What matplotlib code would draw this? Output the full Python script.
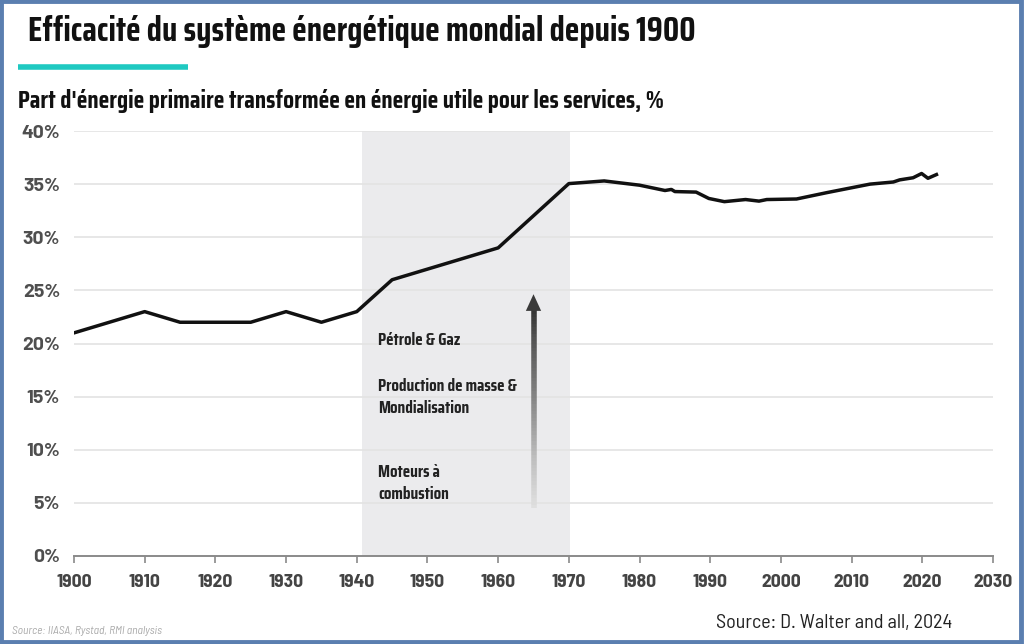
import matplotlib
matplotlib.use("Agg")
import matplotlib.pyplot as plt
import numpy as np
from matplotlib.patches import Rectangle
from matplotlib.collections import LineCollection
from matplotlib import font_manager

names = {f.name for f in font_manager.fontManager.ttflist}
def fam(*cands):
    out = [c for c in cands if c in names]
    return out + ['DejaVu Sans']

COND = fam('Saira Extra Condensed', 'Saira Condensed', 'Barlow Condensed', 'Asap Condensed')
YTICK = fam('Barlow', 'Barlow Semi Condensed')
XTICK = fam('Barlow Semi Condensed', 'Barlow')
SRC = fam('Barlow Semi Condensed', 'Barlow')
plt.rcParams['font.family'] = COND

years = [1900, 1910, 1915, 1925, 1930, 1935, 1940, 1945, 1960, 1970, 1975, 1980,
         1983.6, 1984.5, 1985, 1988, 1989.8, 1992, 1995, 1996.9, 1998, 2002.2,
         2006.5, 2012.6, 2015.9, 2016.8, 2018.7, 2019.9, 2020.8, 2022]
values = [21, 23, 22, 22, 23, 22, 23, 26, 29, 35.05, 35.3, 34.9,
          34.4, 34.5, 34.3, 34.25, 33.65, 33.35, 33.55, 33.4, 33.55, 33.6,
          34.2, 35.0, 35.2, 35.4, 35.6, 36.0, 35.55, 35.9]
xticks = list(range(1900, 2031, 10))
yticks = list(range(0, 41, 5))
span = (1940.7, 1970.1)
arrow_x = 1965
arrow_y = (4.5, 24.9)
labels = [("Pétrole & Gaz", 20.3), ("Production de masse &\nMondialisation", 15.0),
          ("Moteurs à\ncombustion", 6.9)]

fig = plt.figure(figsize=(10.24, 6.44), dpi=100)
ax = fig.add_axes([74/1024, 1-556/644, (993-74)/1024, (556-131)/644])

ax.axvspan(span[0], span[1], ymin=0, ymax=1, color='#ebebed', zorder=0, lw=0)
for y in yticks[1:]:
    ax.axhline(y, color='#e3e3e3', lw=1.2, zorder=1)
ax.plot(years, values, color='#111111', lw=2.5, zorder=5, solid_joinstyle='round')

# gradient arrow
n = 60
ys = np.linspace(arrow_y[0], arrow_y[1] - 1.5, n + 1)
segs = [[(arrow_x, ys[i]), (arrow_x, ys[i + 1])] for i in range(n)]
cols = [plt.cm.Greys(0.22 + 0.63 * i / n) for i in range(n)]
ax.add_collection(LineCollection(segs, colors=cols, linewidths=4, zorder=4))
ax.annotate('', xy=(arrow_x, arrow_y[1]), xytext=(arrow_x, arrow_y[1] - 2.2),
            arrowprops=dict(arrowstyle='-|>,head_length=1.2,head_width=0.55',
                            color='#3a3a3a', lw=0), zorder=6)

ann = []
for txt, y in labels:
    ann.append(ax.text(1943.0, y, txt, fontsize=11, fontweight='bold', color='#222222',
                       va='center', ha='left', linespacing=1.45, zorder=6))

ax.set_xlim(1900, 2030)
ax.set_ylim(0, 40)
ax.set_xticks(xticks)
ax.set_yticks(yticks)
ax.set_yticklabels([f"{v}%" for v in yticks])
for s in ['top', 'right', 'left']:
    ax.spines[s].set_visible(False)
ax.spines['bottom'].set_color('#8a8a8a')
ax.spines['bottom'].set_linewidth(1.4)
ax.tick_params(axis='x', length=5, color='#8a8a8a', width=1.2, labelsize=14,
               labelcolor='#444444', pad=8)
ax.tick_params(axis='y', length=0, labelsize=14, labelcolor='#4f4f4f', pad=10)
for lab in ax.get_xticklabels():
    lab.set_fontweight('bold')
    lab.set_family(XTICK)
for lab in ax.get_yticklabels():
    lab.set_fontweight('bold')
    lab.set_family(YTICK)

title = fig.text(28/1024, 1-31/644, "Efficacité du système énergétique mondial depuis 1900",
                 fontsize=26, fontweight='bold', color='#111111', va='center', ha='left')
fig.add_artist(plt.Line2D([18/1024, 188/1024], [1-67/644, 1-67/644], color='#1fc9c1',
                          lw=4, solid_capstyle='butt'))
sub = fig.text(18/1024, 1-101/644,
               "Part d'énergie primaire transformée en énergie utile pour les services, %",
               fontsize=17, fontweight='bold', color='#111111', va='center', ha='left')
small = fig.text(12/1024, 1-631/644, "Source: IIASA, Rystad, RMI analysis", fontsize=6,
                 style='italic', color='#aaaaaa', va='center', ha='left', family=SRC)
src = fig.text(716/1024, 1-623/644, "Source: D. Walter and all, 2024", fontsize=12,
               color='#222222', va='center', ha='left', family=SRC)

fig.add_artist(Rectangle((0.001, 0.003), 0.996, 0.995, transform=fig.transFigure,
                         fill=False, ec='#5b7fb0', lw=3.5))

# fit text sizes to the widths measured on the reference
renderer = fig.canvas.get_renderer()
def fit(t, w):
    bb = t.get_window_extent(renderer)
    t.set_fontsize(t.get_fontsize() * w / bb.width)
fit(title, 667)
fit(sub, 646)
fit(src, 237)
fit(small, 150)
fit(ann[0], 83)
for a in ann[1:]:
    a.set_fontsize(ann[0].get_fontsize())

fig.savefig('out.png', dpi=100)
